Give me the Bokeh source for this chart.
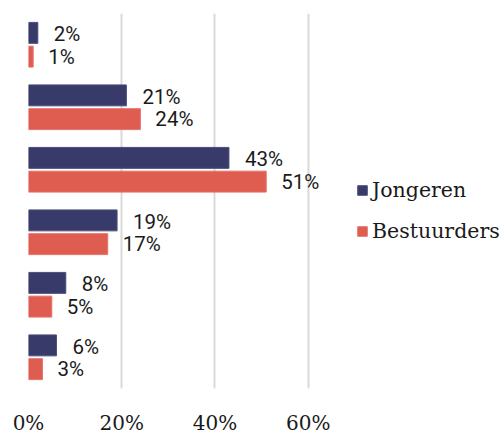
from bokeh.plotting import figure
from bokeh.models import ColumnDataSource, FactorRange, Range1d, FixedTicker, Legend, LegendItem
from bokeh.transform import dodge
from bokeh.core.properties import value
from bokeh.embed import file_html
from bokeh.resources import INLINE

categories = ["1", "2", "3", "4", "5", "6"]
jongeren = [2, 21, 43, 19, 8, 6]
bestuurders = [1, 24, 51, 17, 5, 3]
series_names = ["Jongeren", "Bestuurders"]
x_ticks = [0, 20, 40, 60]
navy = "#383b69"
coral = "#df5c51"

src = ColumnDataSource(dict(
    cat=categories,
    j=jongeren,
    b=bestuurders,
    jl=[f"{v}%" for v in jongeren],
    bl=[f"{v}%" for v in bestuurders],
))

p = figure(width=503, height=437, output_backend="svg", toolbar_location=None,
           y_range=FactorRange(factors=categories[::-1], range_padding=0),
           x_range=Range1d(0, 101.9))
p.min_border_left = 28
p.min_border_right = 0
p.min_border_top = 13
p.min_border_bottom = 0
p.outline_line_color = None
p.background_fill_color = None
p.border_fill_color = "white"

h = 0.335
rj = p.hbar(y=dodge("cat", 0.19, range=p.y_range), right="j", left=0, height=h, source=src,
            fill_color=navy, line_color="#4b4e7a", line_width=1)
rb = p.hbar(y=dodge("cat", -0.19, range=p.y_range), right="b", left=0, height=h, source=src,
            fill_color=coral, line_color="#e4736a", line_width=1)

p.text(x="j", y=dodge("cat", 0.17, range=p.y_range), text="jl", source=src, x_offset=16,
       text_baseline="middle", text_align="left", text_font=value("Roboto"),
       text_font_size="20.5px", text_color="#1a1a1a")
p.text(x="b", y=dodge("cat", -0.19, range=p.y_range), text="bl", source=src, x_offset=15,
       text_baseline="middle", text_align="left", text_font=value("Roboto"),
       text_font_size="20.5px", text_color="#1a1a1a")

p.yaxis.visible = False
p.ygrid.grid_line_color = None
p.xaxis.ticker = FixedTicker(ticks=x_ticks)
p.xaxis.major_label_overrides = {t: f"{t}%" for t in x_ticks}
p.xaxis.axis_line_color = None
p.xaxis.major_tick_line_color = None
p.xaxis.minor_tick_line_color = None
p.xaxis.major_label_standoff = 16
p.xaxis.major_label_text_font = "DejaVu Serif"
p.xaxis.major_label_text_font_size = "20px"
p.xaxis.major_label_text_color = "#1a1a1a"
p.xgrid.ticker = FixedTicker(ticks=x_ticks)
p.xgrid.grid_line_color = "#d9d9d9"
p.xgrid.grid_line_width = 2

legend = Legend(items=[LegendItem(label=series_names[0], renderers=[rj]),
                       LegendItem(label=series_names[1], renderers=[rb])],
                location=(328, 145), orientation="vertical")
legend.border_line_color = None
legend.background_fill_color = None
legend.background_fill_alpha = 0
legend.padding = 0
legend.margin = 0
legend.spacing = 17
legend.glyph_width = 12
legend.glyph_height = 12
legend.label_height = 20
legend.label_standoff = 4
legend.label_text_font = "DejaVu Serif"
legend.label_text_font_size = "20.5px"
legend.label_text_color = "#1a1a1a"
p.add_layout(legend, "center")

open("out.html", "w").write(file_html(p, INLINE))
